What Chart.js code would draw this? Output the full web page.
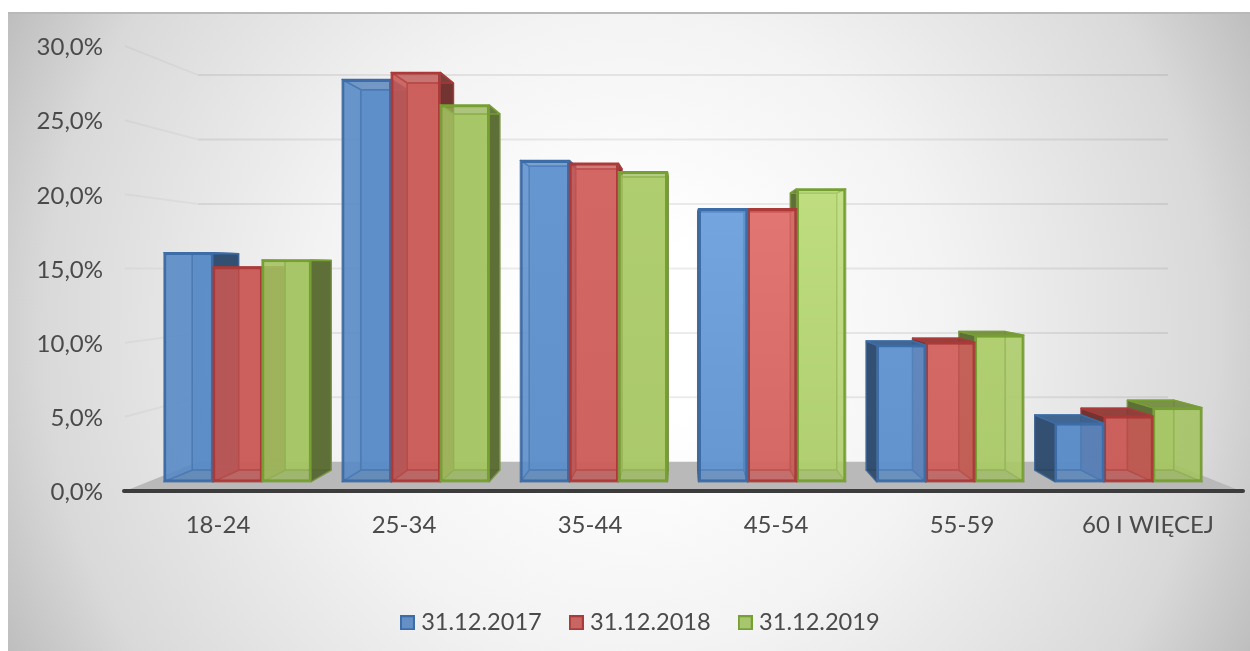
<!DOCTYPE html>
<html><head><meta charset="utf-8">
<style>
html,body{margin:0;padding:0;background:#fff;width:1250px;height:651px;overflow:hidden}
#panel{position:absolute;left:8px;top:12px;width:1242px;height:639px;box-sizing:border-box;border-top:2px solid #b9b9b9;
background:radial-gradient(circle farthest-corner at 50% 50%,#ffffff 0%,#ffffff 14%,#f3f3f3 46%,#d9d9d9 84%,#bebebe 100%)}
#wrap{position:absolute;left:0;top:0;width:1250px;height:651px}
</style></head><body>
<div id="panel"></div>
<div id="wrap"><canvas id="c" width="1250" height="651"></canvas></div>
<script src="https://cdn.jsdelivr.net/npm/chart.js@4/dist/chart.umd.min.js"></script>
<script>
const categories = ['18-24','25-34','35-44','45-54','55-59','60 I WIĘCEJ'];
const seriesNames = ['31.12.2017','31.12.2018','31.12.2019'];
const values2017 = [16.1,28.3,22.6,19.2,9.6,4.1];
const values2018 = [15.1,28.8,22.4,19.2,9.8,4.6];
const values2019 = [15.6,26.5,21.8,20.6,10.3,5.2];
const baseColors = [[79,129,189],[192,80,77],[155,187,89]];
const lineColors = ['#3d6da8','#ab3a38','#76a032'];
const swatchFill = ['#6490c5','#c86664','#a8c570'];
const glow = [0,0,0.3,1,0.55,0.1];

const VX=683, VY=268, K_FRONT=0.958, K_BACK=0.906, K_WALL=0.869;
const proj=(x,y,k)=>[VX+(x-VX)*k, VY+(y-VY)*k];
const rgba=(c,a,m=1)=>`rgba(${Math.round(c[0]*m)},${Math.round(c[1]*m)},${Math.round(c[2]*m)},${a})`;
function poly(ctx,pts,fill,stroke,lw){
  ctx.beginPath();pts.forEach((p,i)=>i?ctx.lineTo(p[0],p[1]):ctx.moveTo(p[0],p[1]));ctx.closePath();
  if(fill){ctx.fillStyle=fill;ctx.fill();}
  if(stroke){ctx.strokeStyle=stroke;ctx.lineWidth=lw||1.5;ctx.lineJoin='round';ctx.stroke();}
}
function swatch(i){
  const s=document.createElement('canvas');s.width=15;s.height=15;
  const g=s.getContext('2d');g.fillStyle=swatchFill[i];g.fillRect(0,0,15,15);
  g.strokeStyle=lineColors[i];g.lineWidth=2;g.strokeRect(1,1,13,13);
  return s;
}
function drawBar3d(ctx,el,i){
  const c=baseColors[i], line=lineColors[i];
  const {x,y,base,width}=el.getProps(['x','y','base','width'],true);
  const l=x-width/2,r=x+width/2;
  const f=(px,py)=>proj(px,py,K_FRONT), b=(px,py)=>proj(px,py,K_BACK);
  const edge=rgba(c,0.75,0.8);
  const lifted=c.map(v=>Math.min(255,v+30));
  const outer=rgba(c,0.88,0.52), hidden=rgba(lifted,0.68);
  const leftOut=f(l,y)[0]>b(l,y)[0], rightOut=f(r,y)[0]<b(r,y)[0], topOut=f(l,y)[1]>b(l,y)[1];
  ctx.save();
  poly(ctx,[b(l,y),b(r,y),b(r,base),b(l,base)],rgba(lifted,0.88),edge,1.5);
  poly(ctx,[f(l,base),f(r,base),b(r,base),b(l,base)],rgba(c,0.3,0.8),edge,1.5);
  poly(ctx,[f(l,y),b(l,y),b(l,base),f(l,base)],leftOut?outer:hidden,edge,1.5);
  poly(ctx,[f(r,y),b(r,y),b(r,base),f(r,base)],rightOut?outer:hidden,edge,1.5);
  poly(ctx,[f(l,y),f(r,y),b(r,y),b(l,y)],rgba(c,topOut?0.88:0.3,0.72),line,1.5);
  ctx.translate(VX,VY);ctx.scale(K_FRONT,K_FRONT);ctx.translate(-VX,-VY);
  el.draw(ctx);
  ctx.restore();
}
const stage={
  id:'stage',
  afterLayout(chart){ chart.legend.left+=22; chart.legend.right+=22; chart.legend.top=578.5; chart.legend.bottom=645; },
  beforeDatasetDraw(){ return false; },
  beforeDatasetsDraw(chart){
    const {ctx,chartArea:a,scales:{y}}=chart;
    ctx.save();
    const [bl,bb]=proj(a.left,a.bottom,K_WALL),[br]=proj(a.right,a.bottom,K_WALL);
    poly(ctx,[[a.left,a.bottom],[a.right,a.bottom],[br,bb],[bl,bb]],'#b9b9b9');
    y.ticks.forEach(t=>{
      const Y=y.getPixelForValue(t.value);
      const [x1,y1]=proj(a.left,Y,K_WALL),[x2]=proj(a.right,Y,K_WALL);
      ctx.lineWidth=2;ctx.lineCap='butt';
      if(t.value>0){
        ctx.strokeStyle='rgba(0,0,0,0.075)';
        ctx.beginPath();ctx.moveTo(x1,y1);ctx.lineTo(x2,y1);ctx.stroke();
        ctx.strokeStyle='rgba(0,0,0,0.035)';
        ctx.beginPath();ctx.moveTo(a.left,Y);ctx.lineTo(x1,y1);ctx.stroke();
      }
    });
    ctx.strokeStyle='#3c3c3c';ctx.lineWidth=4;ctx.lineCap='round';
    ctx.beginPath();ctx.moveTo(a.left-1,a.bottom);ctx.lineTo(a.right+2,a.bottom);ctx.stroke();
    ctx.restore();
  },
  afterDatasetsDraw(chart){
    const ctx=chart.ctx, xs=chart.scales.x;
    categories.forEach((_,k)=>{
      const order = xs.getPixelForValue(k)<VX ? [0,1,2] : [2,1,0];
      order.forEach(i=>drawBar3d(ctx,chart.getDatasetMeta(i).data[k],i));
    });
  }
};
function frontFill(i){
  return function(ctx){
    const c=baseColors[i];
    if(ctx.dataIndex===undefined) return rgba(c,0.67);
    const g=glow[ctx.dataIndex];
    const grad=ctx.chart.ctx.createLinearGradient(0,46,0,491);
    grad.addColorStop(0.3,rgba(c.map(v=>Math.min(255,v+35*g)),0.67));
    grad.addColorStop(1,rgba(c.map(v=>Math.min(255,v+12*g)),0.67));
    return grad;
  };
}
const allValues=[values2017,values2018,values2019];
new Chart(document.getElementById('c'),{
  type:'bar',
  data:{labels:categories,datasets:seriesNames.map((n,i)=>({
    label:n,data:allValues[i],
    backgroundColor:frontFill(i),borderColor:lineColors[i],borderWidth:2.5,borderSkipped:false,
    categoryPercentage:0.825,barPercentage:1
  }))},
  options:{
    responsive:false,animation:false,
    layout:{padding:{left:0,right:9,top:46,bottom:5.9}},
    scales:{
      x:{grid:{display:false,drawTicks:false},border:{display:false},
        ticks:{padding:20,color:'#4a4a4a',font:{family:'Lato',size:24},maxRotation:0,autoSkip:false},
        afterFit(s){s.height=88;}},
      y:{min:0,max:30,grid:{display:false,drawTicks:false},border:{display:false},
        ticks:{stepSize:5,padding:22,labelOffset:1.5,color:'#4a4a4a',font:{family:'Lato',size:24},
          callback:v=>v.toFixed(1).replace('.',',')+'%'},
        afterFit(s){s.width=125;}}
    },
    plugins:{
      tooltip:{enabled:false},
      legend:{position:'bottom',labels:{
        usePointStyle:true,pointStyleWidth:4,boxHeight:14,padding:32.5,color:'#4a4a4a',font:{family:'Lato',size:23.6},
        generateLabels:()=>seriesNames.map((n,i)=>({text:n,pointStyle:swatch(i),fontColor:'#4a4a4a',datasetIndex:i,hidden:false}))
      }}
    }
  },
  plugins:[stage]
});
</script></body></html>
